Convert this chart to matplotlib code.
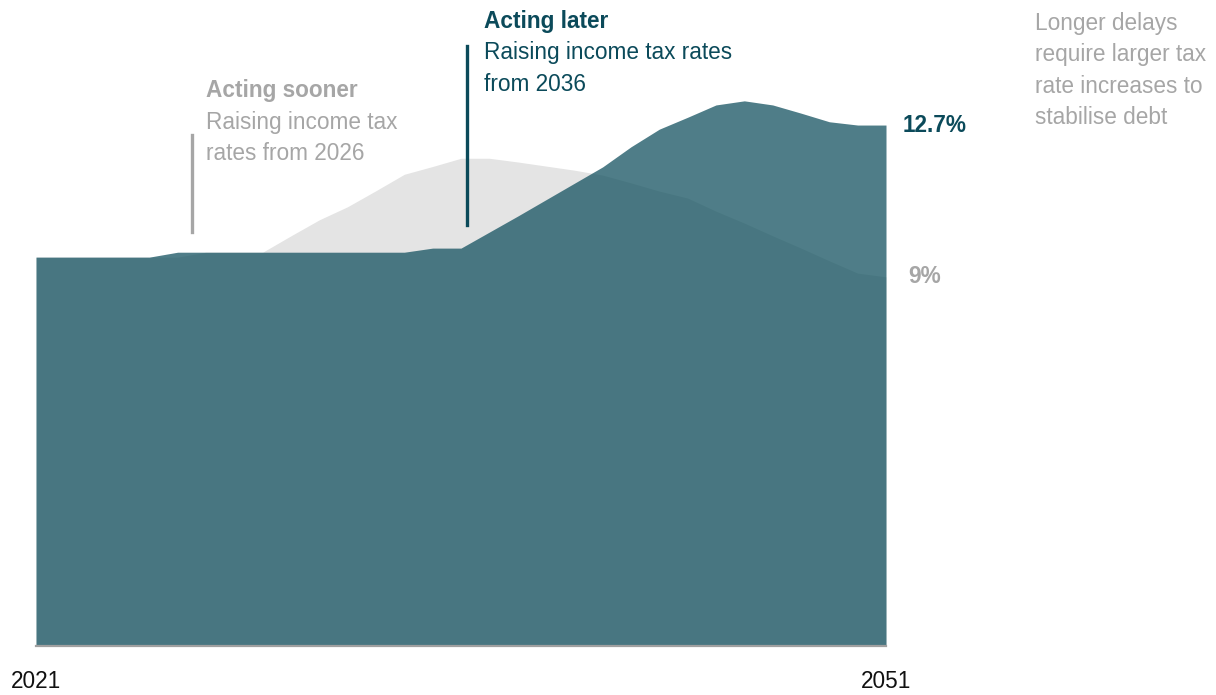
import matplotlib
matplotlib.use("Agg")
import matplotlib.pyplot as plt

# Income tax rate (%) needed to stabilise debt, by scenario
years = list(range(2021, 2052))
acting_later = [9.48, 9.48, 9.48, 9.48, 9.48,
                9.6, 9.6, 9.6, 9.6, 9.6, 9.6, 9.6, 9.6, 9.6,
                9.7, 9.7,
                10.09, 10.48, 10.88, 11.28, 11.68, 12.17, 12.6, 12.89,
                13.19, 13.29, 13.19, 12.99, 12.78, 12.7, 12.7]
acting_sooner = [9.48, 9.48, 9.48, 9.48, 9.48, 9.48,
                 9.6, 9.6, 9.6,
                 10.0, 10.39, 10.71, 11.1, 11.5, 11.69, 11.89, 11.89,
                 11.8, 11.7, 11.6, 11.48, 11.29, 11.09, 10.92, 10.6,
                 10.31, 10.0, 9.7, 9.39, 9.09, 9.0]
x_ticks = [2021, 2051]

plt.rcParams["font.family"] = ["Liberation Sans", "DejaVu Sans"]

W, H = 1216, 695
fig = plt.figure(figsize=(W / 100, H / 100), dpi=100)
ax = fig.add_axes([36 / W, (H - 646) / H, 850 / W, 646 / H])

TEAL = "#0b4a5a"
TEAL_FILL = "#145260"
GREY_FILL = "#e4e4e4"
GREY_TEXT = "#a6a6a6"
FS = 16.3

ax.fill_between(years, 0, acting_sooner, color=GREY_FILL, lw=0)
ax.fill_between(years, 0, acting_later, color=TEAL_FILL, alpha=0.75, lw=0)

ax.set_xlim(2021, 2051)
ax.set_ylim(0, 646 / 41.02)
for s in ("top", "right", "left"):
    ax.spines[s].set_visible(False)
ax.spines["bottom"].set_color("#a0a0a0")
ax.spines["bottom"].set_linewidth(1.6)
ax.set_yticks([])
ax.set_xticks(x_ticks)
ax.set_xticklabels([str(t) for t in x_ticks], fontsize=FS, color="#111111")
ax.tick_params(axis="x", length=0, pad=17)
ax.patch.set_alpha(0)


def px(x, y):
    return x / W, 1 - y / H


# Annotation: acting sooner
fig.add_artist(plt.Line2D(*zip(px(192, 135), px(192, 232)), color=GREY_TEXT, lw=2.4))
fig.text(*px(206, 97), "Acting sooner", fontsize=FS, fontweight="bold",
         color=GREY_TEXT, va="baseline")
fig.text(*px(206, 129), "Raising income tax", fontsize=FS, color=GREY_TEXT, va="baseline")
fig.text(*px(206, 160), "rates from 2026", fontsize=FS, color=GREY_TEXT, va="baseline")

# Annotation: acting later
fig.add_artist(plt.Line2D(*zip(px(467, 46), px(467, 225)), color=TEAL, lw=2.4))
fig.text(*px(484, 28), "Acting later", fontsize=FS, fontweight="bold",
         color=TEAL, va="baseline")
fig.text(*px(484, 59), "Raising income tax rates", fontsize=FS, color=TEAL, va="baseline")
fig.text(*px(484, 91), "from 2036", fontsize=FS, color=TEAL, va="baseline")

# End-of-series value labels
ax.annotate(f"{acting_later[-1]:g}%", xy=(years[-1], acting_later[-1]),
            xytext=(12, 0), textcoords="offset points", fontsize=FS,
            fontweight="bold", color=TEAL, va="center", ha="left",
            annotation_clip=False)
ax.annotate(f"{acting_sooner[-1]:g}%", xy=(years[-1], acting_sooner[-1]),
            xytext=(16, 0), textcoords="offset points", fontsize=FS,
            fontweight="bold", color=GREY_TEXT, va="center", ha="left",
            annotation_clip=False)

# Side note
for i, line in enumerate(["Longer delays", "require larger tax",
                          "rate increases to", "stabilise debt"]):
    fig.text(*px(1035, 30 + 31.5 * i), line, fontsize=FS, color=GREY_TEXT, va="baseline")

fig.savefig("out.png", dpi=100)
